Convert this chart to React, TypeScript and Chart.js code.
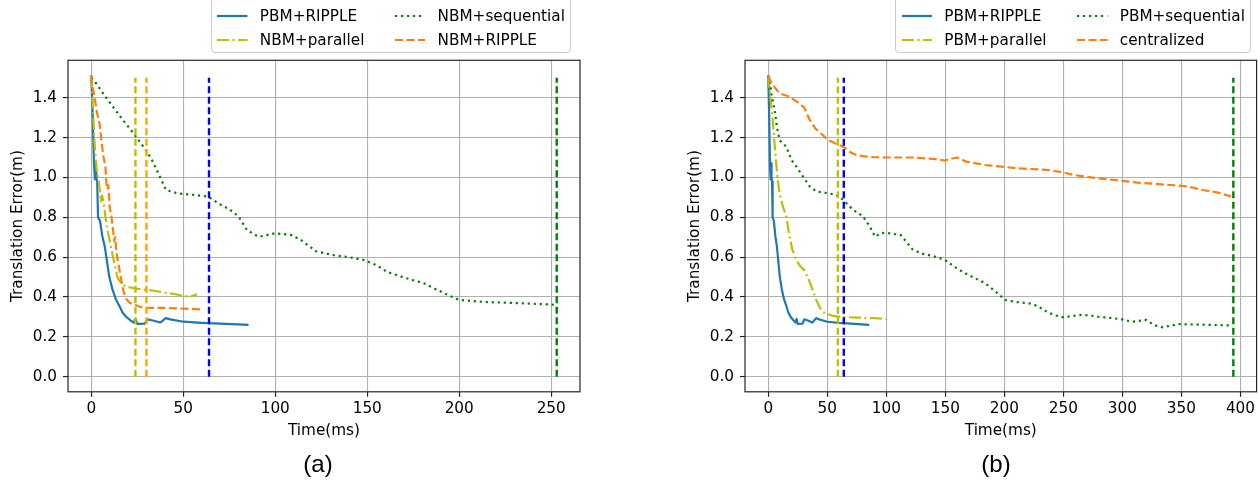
import React, { useEffect, useRef } from "react";
import { Chart, registerables } from "chart.js";

Chart.register(...registerables);

// ---------------- data ----------------
// PBM+RIPPLE (same run in both panels)
const rippleTime = [0, 0.8, 1.5, 2.0, 2.4, 2.8, 3.2, 3.7, 4.8, 6.0, 7.3, 8.4, 9.7, 11.5, 13.4, 15.3, 17.0, 19.0, 21.5, 23.0, 24.0, 25.0, 29.0, 30.5, 34.0, 37.5, 40.5, 43.0, 50.0, 60.0, 70.0, 85.5];
const rippleErr = [1.513, 1.3, 1.06, 0.99, 1.07, 1.0, 0.98, 0.8, 0.78, 0.705, 0.655, 0.588, 0.505, 0.438, 0.388, 0.355, 0.322, 0.3, 0.282, 0.272, 0.29, 0.265, 0.266, 0.288, 0.281, 0.272, 0.294, 0.288, 0.276, 0.27, 0.266, 0.26];

// panel (a)
const nbmParTime = [0, 1.1, 1.8, 2.9, 4.5, 5.2, 5.8, 6.6, 7.9, 9.0, 10.6, 12.5, 14.3, 15.5, 17.0, 19.0, 21.6, 24.4, 30.8, 35.0, 39.9, 45.0, 49.0, 53.6, 57.5];
const nbmParErr = [1.51, 1.305, 1.17, 1.04, 0.95, 0.88, 0.91, 0.88, 0.79, 0.73, 0.655, 0.57, 0.497, 0.48, 0.463, 0.452, 0.447, 0.442, 0.435, 0.43, 0.422, 0.415, 0.408, 0.401, 0.413];

const nbmSeqTime = [0, 2, 7.7, 16.5, 23, 29.7, 33, 37.3, 40.6, 47, 56, 63.7, 69, 75, 80, 84.6, 91, 100, 108.7, 114, 122, 131, 140, 148, 155, 161, 171, 181, 192, 200, 214, 236, 250, 253];
const nbmSeqErr = [1.5, 1.48, 1.405, 1.296, 1.221, 1.137, 1.087, 1.004, 0.937, 0.92, 0.912, 0.903, 0.87, 0.84, 0.805, 0.736, 0.702, 0.72, 0.711, 0.686, 0.63, 0.611, 0.6, 0.586, 0.56, 0.525, 0.495, 0.468, 0.418, 0.385, 0.375, 0.368, 0.362, 0.36];

const nbmRipTime = [0, 0.8, 1.8, 3.0, 4.5, 5.5, 6.5, 7.7, 8.3, 8.8, 9.3, 10.0, 11.0, 12.0, 12.5, 13.0, 13.6, 14.5, 16.0, 17.5, 19.0, 21.0, 23.5, 26.0, 30.0, 40.0, 50.0, 59.3];
const nbmRipErr = [1.51, 1.45, 1.405, 1.33, 1.27, 1.19, 1.11, 1.054, 0.96, 0.94, 0.96, 0.85, 0.8, 0.72, 0.68, 0.7, 0.63, 0.58, 0.5, 0.43, 0.39, 0.37, 0.362, 0.352, 0.345, 0.345, 0.342, 0.338];

const vlineTimesA = [24, 30, 64, 253];

// panel (b)
const pbmParTime = [0, 2, 4, 6, 8, 9.6, 12.4, 15.3, 17.5, 20.3, 23.7, 27, 30.5, 35.6, 40.7, 43.5, 45.8, 50, 55, 61.2, 75, 90, 100.4];
const pbmParErr = [1.51, 1.39, 1.27, 1.12, 0.99, 0.92, 0.855, 0.805, 0.72, 0.64, 0.585, 0.555, 0.535, 0.469, 0.385, 0.35, 0.326, 0.315, 0.305, 0.3, 0.297, 0.294, 0.29];

const pbmSeqTime = [0, 1.7, 2.5, 5.4, 7.3, 9.6, 12, 15.3, 19.5, 23.7, 29.4, 35, 40.7, 49.2, 57.6, 63.3, 71.8, 80.2, 85.9, 90.5, 95.8, 102, 108, 112.3, 115.7, 122, 129.3, 140, 149.7, 158, 166.8, 175, 183.8, 192, 200.9, 210, 221.3, 228.1, 235, 241.7, 250.3, 258, 265.5, 272, 279.2, 290, 299.6, 308.1, 314, 320.1, 326.9, 333.6, 340, 347.4, 360, 375, 391.7];
const pbmSeqErr = [1.51, 1.48, 1.422, 1.338, 1.255, 1.188, 1.17, 1.155, 1.088, 1.055, 1.005, 0.955, 0.93, 0.922, 0.913, 0.888, 0.838, 0.805, 0.755, 0.703, 0.722, 0.72, 0.715, 0.711, 0.686, 0.64, 0.619, 0.605, 0.586, 0.55, 0.519, 0.495, 0.469, 0.43, 0.385, 0.375, 0.368, 0.355, 0.33, 0.31, 0.298, 0.305, 0.31, 0.308, 0.301, 0.295, 0.288, 0.276, 0.28, 0.285, 0.259, 0.248, 0.255, 0.264, 0.262, 0.26, 0.257];

const centTime = [0, 3, 9.6, 18, 26, 30.5, 35, 40, 44, 50.6, 57, 63.3, 70, 74.6, 80, 88.7, 100, 122.5, 140, 149.7, 156, 159.9, 163, 168, 184, 211, 238, 250, 259, 279, 293, 313, 340, 355, 368, 380, 392];
const centErr = [1.51, 1.47, 1.422, 1.405, 1.372, 1.35, 1.29, 1.245, 1.225, 1.188, 1.17, 1.155, 1.125, 1.113, 1.107, 1.102, 1.1, 1.1, 1.093, 1.085, 1.095, 1.1, 1.092, 1.079, 1.062, 1.046, 1.037, 1.025, 1.012, 0.996, 0.987, 0.974, 0.962, 0.955, 0.937, 0.925, 0.905];

const vlineTimesB = [59, 64, 394];
const vlineBottom = 0;
const vlineTop = 1.5;

// axes
const xRangeA = [-12.65, 265.65];
const xRangeB = [-19.7, 413.7];
const yRange = [-0.0756, 1.5876];
const xTicksA = [0, 50, 100, 150, 200, 250];
const xTicksB = [0, 50, 100, 150, 200, 250, 300, 350, 400];
const yTicks = [0, 0.2, 0.4, 0.6, 0.8, 1.0, 1.2, 1.4];
const yTickLabels = ["0.0", "0.2", "0.4", "0.6", "0.8", "1.0", "1.2", "1.4"];

const labelsA = ["PBM+RIPPLE", "NBM+parallel", "NBM+sequential", "NBM+RIPPLE"];
const labelsB = ["PBM+RIPPLE", "PBM+parallel", "PBM+sequential", "centralized"];
const xTitle = "Time(ms)";
const yTitle = "Translation Error(m)";
const captions = ["(a)", "(b)"];

// ---------------- styles ----------------
const FONT = "'DejaVu Sans', sans-serif";
const FS = 15.25;
const LW = 2.2;
type StyleKey = "solid" | "dashdot" | "dotted" | "dashed";
const STYLES: Record<StyleKey, { color: string; dash: number[] }> = {
  solid: { color: "#1f77b4", dash: [] },
  dashdot: { color: "#bfbf00", dash: [12, 3.5, 2, 3.5] },
  dotted: { color: "#008000", dash: [2.2, 3.8] },
  dashed: { color: "#ff7f0e", dash: [8, 3.5] },
};
const vlineColorsA = ["#bfbf00", "#ffa500", "#0000ff", "#008000"];
const vlineColorsB = ["#bfbf00", "#0000ff", "#008000"];
const VLINE_DASH = [7, 3.5];

const framePlugin = {
  id: "frame",
  afterDatasetsDraw(chart: any) {
    const { ctx, chartArea: a } = chart;
    ctx.save();
    ctx.strokeStyle = "#262626";
    ctx.lineWidth = 1.2;
    ctx.setLineDash([]);
    ctx.strokeRect(a.left, a.top, a.right - a.left, a.bottom - a.top);
    ctx.restore();
  },
};

function series(t: number[], e: number[], label: string, key: StyleKey, order: number) {
  const s = STYLES[key];
  return {
    label,
    data: t.map((x, i) => ({ x, y: e[i] })),
    borderColor: s.color,
    backgroundColor: s.color,
    borderDash: s.dash,
    borderWidth: LW,
    borderJoinStyle: "round",
    borderCapStyle: "butt",
    pointRadius: 0,
    pointHoverRadius: 0,
    fill: false,
    tension: 0,
    order,
  };
}

function vline(x: number, color: string) {
  return {
    label: "",
    data: [
      { x, y: vlineBottom },
      { x, y: vlineTop },
    ],
    borderColor: color,
    borderDash: VLINE_DASH,
    borderWidth: 2.4,
    borderCapStyle: "butt",
    pointRadius: 0,
    fill: false,
    order: 0,
  };
}

function makeConfig(datasets: any[], xRange: number[], xTicks: number[], padLeft: number, padRight: number) {
  const tickFont = { family: FONT, size: FS };
  return {
    type: "line",
    data: { datasets },
    plugins: [framePlugin],
    options: {
      animation: false,
      responsive: false,
      events: [],
      layout: { padding: { top: 60.3, left: padLeft, right: padRight, bottom: 0 } },
      plugins: { legend: { display: false }, tooltip: { enabled: false } },
      scales: {
        x: {
          type: "linear",
          min: xRange[0],
          max: xRange[1],
          bounds: "data",
          afterBuildTicks: (s: any) => {
            s.ticks = xTicks.map((v) => ({ value: v }));
          },
          afterFit: (s: any) => {
            s.height = 89.2;
          },
          ticks: {
            color: "#000",
            font: tickFont,
            padding: 3,
            maxRotation: 0,
            autoSkip: false,
            callback: (v: any) => String(v),
          },
          grid: { color: "#b0b0b0", lineWidth: 1.1, tickColor: "#262626", tickWidth: 1.2, tickLength: 5 },
          border: { display: false },
          title: { display: true, text: xTitle, color: "#000", font: tickFont, padding: { top: 0, bottom: 41 } },
        },
        y: {
          type: "linear",
          min: yRange[0],
          max: yRange[1],
          bounds: "data",
          afterBuildTicks: (s: any) => {
            s.ticks = yTicks.map((v) => ({ value: v }));
          },
          afterFit: (s: any) => {
            s.width = 68;
          },
          ticks: {
            color: "#000",
            font: tickFont,
            padding: 6,
            autoSkip: false,
            callback: (v: any) => {
              const i = yTicks.indexOf(v);
              return i >= 0 ? yTickLabels[i] : "";
            },
          },
          grid: { color: "#b0b0b0", lineWidth: 1.1, tickColor: "#262626", tickWidth: 1.2, tickLength: 5 },
          border: { display: false },
          title: { display: true, text: yTitle, color: "#000", font: tickFont, padding: { top: 9, bottom: 0 } },
        },
      },
    },
  };
}

function Panel({ left, width, config }: { left: number; width: number; config: any }) {
  const ref = useRef<HTMLCanvasElement>(null);
  useEffect(() => {
    const chart = new Chart(ref.current as HTMLCanvasElement, config);
    return () => chart.destroy();
  }, []);
  return <canvas ref={ref} width={width} height={481} style={{ position: "absolute", left, top: 0 }} />;
}

function Sample({ k }: { k: StyleKey }) {
  const s = STYLES[k];
  return (
    <svg width={2 * FS} height={16} style={{ display: "block", flex: "none" }}>
      <line x1={0} y1={8} x2={2 * FS} y2={8} stroke={s.color} strokeWidth={LW} strokeDasharray={s.dash.length ? s.dash.join(" ") : undefined} />
    </svg>
  );
}

function Legend({ right, labels }: { right: number; labels: string[] }) {
  const keys: StyleKey[] = ["solid", "dashdot", "dotted", "dashed"];
  // column-major: col1 = items 0,1 ; col2 = items 2,3
  const order = [0, 2, 1, 3];
  return (
    <div
      style={{
        position: "absolute",
        right: 1258 - right,
        top: -4,
        border: "1px solid #cccccc",
        borderRadius: 4,
        background: "rgba(255,255,255,0.8)",
        padding: `11px ${0.4 * FS - 1}px 4.5px ${0.4 * FS - 1}px`,
        display: "grid",
        gridTemplateColumns: "auto auto",
        columnGap: 2 * FS,
        rowGap: 7.5,
        fontFamily: FONT,
        fontSize: FS,
        color: "#000",
      }}
    >
      {order.map((i) => (
        <div key={i} style={{ display: "flex", alignItems: "center", height: 16, whiteSpace: "nowrap" }}>
          <Sample k={keys[i]} />
          <span style={{ marginLeft: 0.8 * FS, lineHeight: "16px" }}>{labels[i]}</span>
        </div>
      ))}
    </div>
  );
}

export default function App() {
  const dsA = [
    series(rippleTime, rippleErr, labelsA[0], "solid", 4),
    series(nbmParTime, nbmParErr, labelsA[1], "dashdot", 3),
    series(nbmSeqTime, nbmSeqErr, labelsA[2], "dotted", 2),
    series(nbmRipTime, nbmRipErr, labelsA[3], "dashed", 1),
    ...vlineTimesA.map((x, i) => vline(x, vlineColorsA[i])),
  ];
  const dsB = [
    series(rippleTime, rippleErr, labelsB[0], "solid", 4),
    series(pbmParTime, pbmParErr, labelsB[1], "dashdot", 3),
    series(pbmSeqTime, pbmSeqErr, labelsB[2], "dotted", 2),
    series(centTime, centErr, labelsB[3], "dashed", 1),
    ...vlineTimesB.map((x, i) => vline(x, vlineColorsB[i])),
  ];
  const cfgA = makeConfig(dsA, xRangeA, xTicksA, 0, 49);
  const cfgB = makeConfig(dsB, xRangeB, xTicksB, 48, 0.5);
  const capStyle: React.CSSProperties = {
    position: "absolute",
    top: 464 - 14,
    width: 100,
    textAlign: "center",
    fontFamily: "'Liberation Sans', Arial, sans-serif",
    fontSize: 24,
    lineHeight: "28px",
    color: "#000",
  };
  return (
    <div style={{ position: "fixed", left: 0, top: 0, width: 1258, height: 481, background: "#fff", overflow: "hidden" }}>
      <Panel left={0} width={629} config={cfgA} />
      <Panel left={629} width={629} config={cfgB} />
      <Legend right={571} labels={labelsA} />
      <Legend right={1251} labels={labelsB} />
      <div style={{ ...capStyle, left: 318 - 50 }}>{captions[0]}</div>
      <div style={{ ...capStyle, left: 996 - 50 }}>{captions[1]}</div>
    </div>
  );
}
